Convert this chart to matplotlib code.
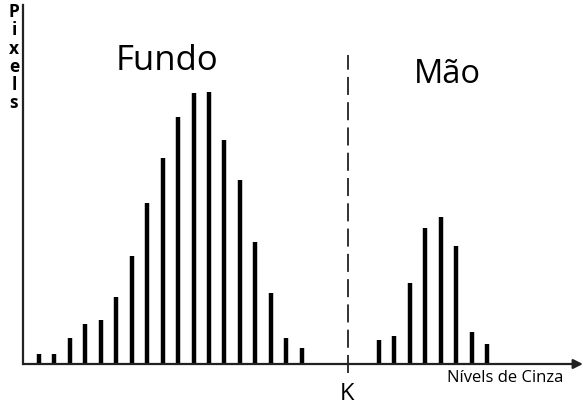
import numpy as np
import matplotlib
matplotlib.use('Agg')
import matplotlib.pyplot as plt

plt.rcParams['font.family'] = ['Open Sans', 'DejaVu Sans']

# histogram bins (grey level index) and counts
fundo_x = np.arange(0, 18)
fundo_h = [10, 10, 26, 40, 44, 67, 108, 161, 206, 247, 271, 272, 224, 184,
           122, 71, 26, 16]
mao_x = np.arange(22, 30)
mao_h = [24, 28, 81, 136, 147, 118, 32, 20]
k_pos = 20

fig = plt.figure(figsize=(5.84, 4.05), dpi=100)
ax = fig.add_axes([0, 0, 1, 1])
ax.set_xlim(-2.524, 35.27)
ax.set_ylim(-41, 364)
ax.axis('off')

ax.vlines(fundo_x, 0, fundo_h, colors='black', linewidth=3.2)
ax.vlines(mao_x, 0, mao_h, colors='black', linewidth=3.2)

# axes drawn by hand
ax.plot([-1.036, -1.036], [0, 359], color='#222222', linewidth=1.6)
ax.annotate('', xy=(35.2, 0), xytext=(-1.036, 0),
            arrowprops=dict(arrowstyle='-|>', color='#222222', lw=1.6,
                            mutation_scale=14, shrinkA=0, shrinkB=0))

# threshold K
ax.plot([k_pos, k_pos], [-9, 309], color='#222222', linewidth=1.3,
        dashes=(10, 4))

ax.text(8.29, 294, 'Fundo', fontsize=25, ha='center', va='baseline')
ax.text(26.4, 281, 'Mão', fontsize=23.5, ha='center', va='baseline')
ax.text(19.9, -36, 'K', fontsize=17, ha='center', va='baseline')
ax.text(30.2, -18, 'Nívels de Cinza', fontsize=12, ha='center',
        va='baseline')
ax.text(-1.62, 361, 'P\ni\nx\ne\nl\ns', fontsize=12.5, fontweight='bold',
        ha='center', va='top', linespacing=1.02)

fig.savefig('out.png', dpi=100)
